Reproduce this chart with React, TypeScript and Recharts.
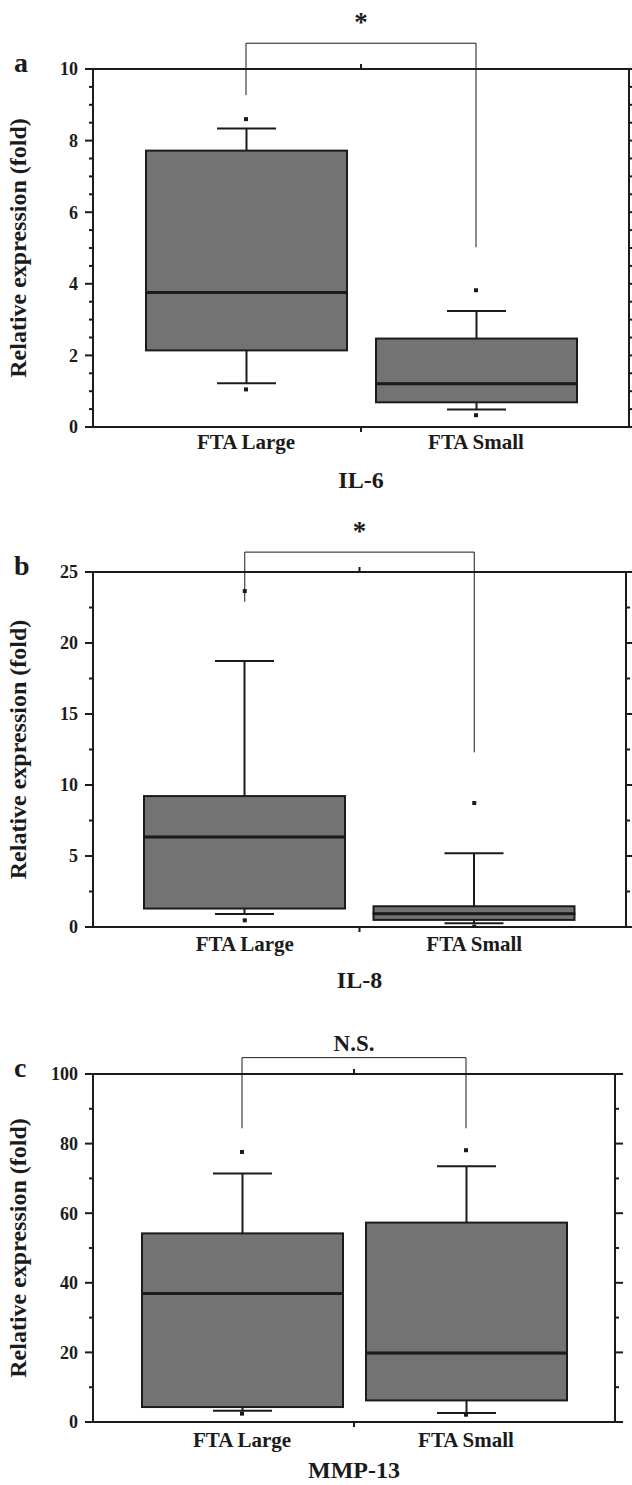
import React from 'react'
import { ComposedChart, Bar, Scatter, XAxis, YAxis, ReferenceLine } from 'recharts'

const groups = ['FTA Large', 'FTA Small']

// IL-6 box statistics (FTA Large, FTA Small)
const il6WhiskerLow = [1.22, 0.49]
const il6Q1 = [2.14, 0.69]
const il6Median = [3.76, 1.21]
const il6Q3 = [7.72, 2.47]
const il6WhiskerHigh = [8.34, 3.24]
const il6OutlierHigh = [8.6, 3.82]
const il6OutlierLow = [1.05, 0.33]
const il6MajorTicks = [0, 2, 4, 6, 8, 10]
const il6MinorTicks = [0.5, 1, 1.5, 2.5, 3, 3.5, 4.5, 5, 5.5, 6.5, 7, 7.5, 8.5, 9, 9.5]

// IL-8
const il8WhiskerLow = [0.92, 0.26]
const il8Q1 = [1.3, 0.5]
const il8Median = [6.34, 0.94]
const il8Q3 = [9.22, 1.46]
const il8WhiskerHigh = [18.73, 5.19]
const il8OutlierHigh = [23.66, 8.73]
const il8OutlierLow = [0.47, 0.03]
const il8MajorTicks = [0, 5, 10, 15, 20, 25]
const il8MinorTicks = [2.5, 7.5, 12.5, 17.5, 22.5]

// MMP-13
const mmp13WhiskerLow = [3.2, 2.6]
const mmp13Q1 = [4.3, 6.2]
const mmp13Median = [36.9, 19.8]
const mmp13Q3 = [54.2, 57.3]
const mmp13WhiskerHigh = [71.4, 73.5]
const mmp13OutlierHigh = [77.6, 78.1]
const mmp13OutlierLow = [2.4, 2.1]
const mmp13MajorTicks = [0, 20, 40, 60, 80, 100]
const mmp13MinorTicks = [10, 30, 50, 70, 90]

// significance brackets: [top, left leg end, right leg end]
const il6Bracket = [10.72, 9.27, 5.02]
const il8Bracket = [26.4, 22.9, 12.3]
const mmp13Bracket = [104.7, 84.4, 84.4]

const INK = '#1b1b1b'
const BOX_FILL = '#737373'
const FONT = '"Liberation Serif", "Times New Roman", serif'
const CAP = 29.5
const TOP_AXIS_H = 10
const BOTTOM_AXIS_H = 61

function boxRows(low: number[], q1: number[], med: number[], q3: number[], high: number[], outHigh: number[], outLow: number[]) {
  return groups.map((name, i) => ({
    name,
    base: low[i],
    lowWhisker: q1[i] - low[i],
    lowBox: med[i] - q1[i],
    highBox: q3[i] - med[i],
    highWhisker: high[i] - q3[i],
    outHigh: outHigh[i],
    outLow: outLow[i],
  }))
}

const LowWhisker = (p: any) => {
  const cx = p.x + p.width / 2
  const yb = p.y + p.height
  return (
    <g>
      <line x1={cx} x2={cx} y1={p.y} y2={yb} stroke={INK} strokeWidth={2} />
      <line x1={cx - CAP} x2={cx + CAP} y1={yb} y2={yb} stroke={INK} strokeWidth={2} />
    </g>
  )
}

const HighWhisker = (p: any) => {
  const cx = p.x + p.width / 2
  return (
    <g>
      <line x1={cx} x2={cx} y1={p.y} y2={p.y + p.height} stroke={INK} strokeWidth={2} />
      <line x1={cx - CAP} x2={cx + CAP} y1={p.y} y2={p.y} stroke={INK} strokeWidth={2} />
    </g>
  )
}

const LowBox = (p: any) => (
  <rect x={p.x} y={p.y} width={p.width} height={p.height} fill={BOX_FILL} stroke={INK} strokeWidth={2} />
)

// upper half of the box, the median drawn on its lower edge
const HighBox = (p: any) => (
  <g>
    <rect x={p.x} y={p.y} width={p.width} height={p.height} fill={BOX_FILL} stroke={INK} strokeWidth={2} />
    <line x1={p.x} x2={p.x + p.width} y1={p.y + p.height} y2={p.y + p.height} stroke={INK} strokeWidth={3} />
  </g>
)

const Outlier = (p: any) => <rect x={p.cx - 2} y={p.cy - 2} width={4} height={4} fill={INK} />

type PanelProps = {
  top: number
  height: number
  plotTop: number
  plotBottom: number
  rightWidth: number
  letter: string
  gene: string
  geneOffset: number
  rows: any[]
  majorTicks: number[]
  minorTicks: number[]
  bracket: number[]
  sigText: string
  sigSize: number
  sigOffset: number
  labelGap: number
}

function Panel(props: PanelProps) {
  const { top, height, plotTop, plotBottom, rightWidth, letter, gene, geneOffset, rows, majorTicks, minorTicks, bracket, sigText, sigSize, sigOffset, labelGap } = props
  const allTicks = [...majorTicks, ...minorTicks].sort((a, b) => a - b)
  const domain = [majorTicks[0], majorTicks[majorTicks.length - 1]]
  const plotWidth = 632 - 93 - rightWidth
  const pad = Math.round(plotWidth * 0.07)

  const leftTick = (t: any) => {
    const major = majorTicks.includes(t.payload.value)
    return (
      <g>
        <line x1={t.x - (major ? 8 : 4)} x2={t.x} y1={t.y} y2={t.y} stroke={INK} strokeWidth={2} />
        {major && (
          <text x={t.x - 15} y={t.y} dy="0.35em" textAnchor="end" fontSize={18} fontWeight="bold" fill={INK}>
            {t.payload.value}
          </text>
        )}
      </g>
    )
  }

  const rightTick = (t: any) => {
    const major = majorTicks.includes(t.payload.value)
    return <line x1={t.x} x2={t.x + (major ? 8 : 4)} y1={t.y} y2={t.y} stroke={INK} strokeWidth={2} />
  }

  const bottomTick = (t: any) => (
    <g>
      {t.index === 0 && t.payload.offset != null && (
        <line x1={t.x + t.payload.offset} x2={t.x + t.payload.offset} y1={t.y} y2={t.y + 5} stroke={INK} strokeWidth={2} />
      )}
      <text x={t.x} y={t.y + labelGap} textAnchor="middle" fontSize={21} fontWeight="bold" fill={INK}>
        {t.payload.value}
      </text>
    </g>
  )

  const topTick = (t: any) =>
    t.index === 0 && t.payload.offset != null ? (
      <line x1={t.x + t.payload.offset} x2={t.x + t.payload.offset} y1={t.y} y2={t.y - 5} stroke={INK} strokeWidth={2} />
    ) : (
      <g />
    )

  const bracketLine = { stroke: INK, strokeWidth: 1, ifOverflow: 'visible' as const }

  return (
    <div style={{ position: 'absolute', left: 0, top, width: 632, height }}>
      <div style={{ position: 'absolute', left: 14, top: plotTop - 20, fontSize: 28, fontWeight: 'bold', lineHeight: 1 }}>
        {letter}
      </div>
      <ComposedChart
        width={632}
        height={height}
        data={rows}
        margin={{ top: plotTop - TOP_AXIS_H, right: 0, bottom: height - plotBottom - BOTTOM_AXIS_H, left: 0 }}
      >
        <XAxis
          dataKey="name"
          height={BOTTOM_AXIS_H}
          padding={{ left: pad, right: pad }}
          axisLine={{ stroke: INK, strokeWidth: 2 }}
          tickLine={false}
          tickSize={0}
          tickMargin={0}
          tick={bottomTick}
          interval={0}
          label={{ value: gene, position: 'insideBottom', offset: geneOffset, fontSize: 24, fontWeight: 'bold', fill: INK }}
        />
        <XAxis
          xAxisId="top"
          orientation="top"
          dataKey="name"
          height={TOP_AXIS_H}
          padding={{ left: pad, right: pad }}
          axisLine={{ stroke: INK, strokeWidth: 2 }}
          tickLine={false}
          tickSize={0}
          tickMargin={0}
          tick={topTick}
          interval={0}
        />
        <YAxis
          width={93}
          domain={domain}
          ticks={allTicks}
          allowDataOverflow
          interval={0}
          axisLine={{ stroke: INK, strokeWidth: 2 }}
          tickLine={false}
          tickSize={0}
          tickMargin={0}
          tick={leftTick}
          label={{
            value: 'Relative expression (fold)',
            angle: -90,
            position: 'insideLeft',
            offset: 17,
            fontSize: 24,
            fontWeight: 'bold',
            fill: INK,
            style: { textAnchor: 'middle' },
          }}
        />
        <YAxis
          yAxisId="right"
          orientation="right"
          width={rightWidth}
          domain={domain}
          ticks={allTicks}
          allowDataOverflow
          interval={0}
          axisLine={{ stroke: INK, strokeWidth: 2 }}
          tickLine={false}
          tickSize={0}
          tickMargin={0}
          tick={rightTick}
        />
        <Bar dataKey="base" stackId="box" barSize={201} fill="transparent" isAnimationActive={false} />
        <Bar dataKey="lowWhisker" stackId="box" barSize={201} shape={LowWhisker} isAnimationActive={false} />
        <Bar dataKey="lowBox" stackId="box" barSize={201} shape={LowBox} isAnimationActive={false} />
        <Bar dataKey="highBox" stackId="box" barSize={201} shape={HighBox} isAnimationActive={false} />
        <Bar dataKey="highWhisker" stackId="box" barSize={201} shape={HighWhisker} isAnimationActive={false} />
        <Scatter dataKey="outHigh" shape={Outlier} isAnimationActive={false} />
        <Scatter dataKey="outLow" shape={Outlier} isAnimationActive={false} />
        <ReferenceLine
          segment={[{ x: groups[0], y: bracket[0] }, { x: groups[1], y: bracket[0] }]}
          {...bracketLine}
          label={{ value: sigText, position: 'top', offset: sigOffset, fontSize: sigSize, fontWeight: 'bold', fill: INK }}
        />
        <ReferenceLine segment={[{ x: groups[0], y: bracket[0] }, { x: groups[0], y: bracket[1] }]} {...bracketLine} />
        <ReferenceLine segment={[{ x: groups[1], y: bracket[0] }, { x: groups[1], y: bracket[2] }]} {...bracketLine} />
      </ComposedChart>
    </div>
  )
}

export default function App() {
  return (
    <div style={{ position: 'absolute', left: 0, top: 0, width: 632, height: 1485, background: '#fff', fontFamily: FONT, color: INK }}>
      <Panel
        top={0}
        height={500}
        plotTop={69}
        plotBottom={427}
        rightWidth={3}
        letter="a"
        gene="IL-6"
        geneOffset={0}
        rows={boxRows(il6WhiskerLow, il6Q1, il6Median, il6Q3, il6WhiskerHigh, il6OutlierHigh, il6OutlierLow)}
        majorTicks={il6MajorTicks}
        minorTicks={il6MinorTicks}
        bracket={il6Bracket}
        sigText="*"
        sigSize={27}
        sigOffset={12}
        labelGap={22}
      />
      <Panel
        top={500}
        height={500}
        plotTop={72}
        plotBottom={427}
        rightWidth={6}
        letter="b"
        gene="IL-8"
        geneOffset={0}
        rows={boxRows(il8WhiskerLow, il8Q1, il8Median, il8Q3, il8WhiskerHigh, il8OutlierHigh, il8OutlierLow)}
        majorTicks={il8MajorTicks}
        minorTicks={il8MinorTicks}
        bracket={il8Bracket}
        sigText="*"
        sigSize={27}
        sigOffset={12}
        labelGap={24}
      />
      <Panel
        top={1000}
        height={485}
        plotTop={74}
        plotBottom={422}
        rightWidth={17}
        letter="c"
        gene="MMP-13"
        geneOffset={5}
        rows={boxRows(mmp13WhiskerLow, mmp13Q1, mmp13Median, mmp13Q3, mmp13WhiskerHigh, mmp13OutlierHigh, mmp13OutlierLow)}
        majorTicks={mmp13MajorTicks}
        minorTicks={mmp13MinorTicks}
        bracket={mmp13Bracket}
        sigText="N.S."
        sigSize={23}
        sigOffset={7}
        labelGap={25}
      />
    </div>
  )
}
